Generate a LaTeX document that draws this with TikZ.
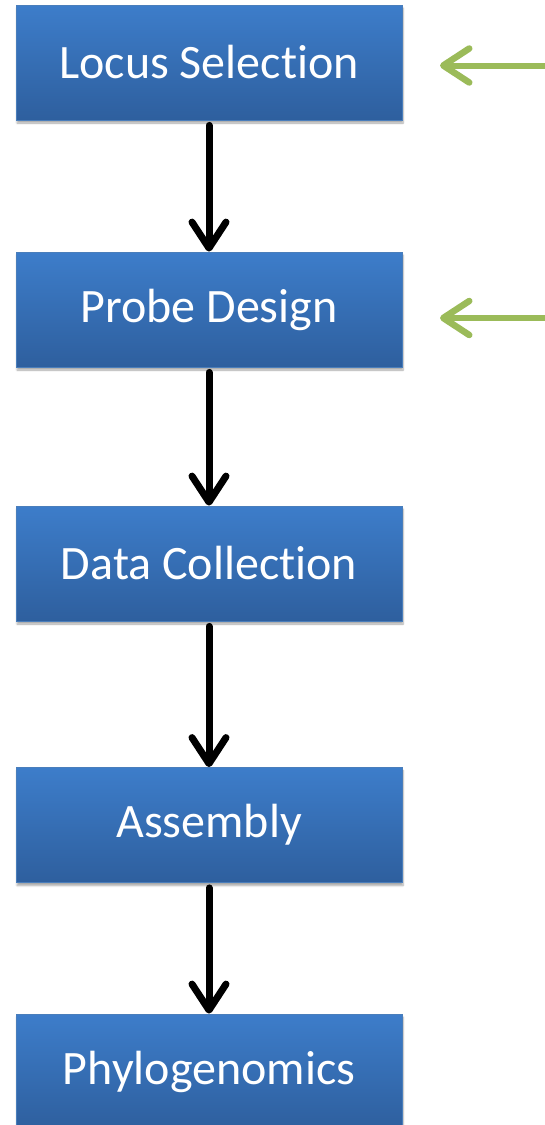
\documentclass[tikz,border=0pt]{standalone}
\usepackage{fontspec}
\setmainfont[Ligatures={NoCommon,NoDiscretionary,NoContextual}]{Carlito}
\usetikzlibrary{arrows.meta,shadows.blur}
\definecolor{boxtop}{HTML}{3D7DCA}
\definecolor{boxbot}{HTML}{2E5F9E}
\definecolor{boxedge}{HTML}{4A7EBB}
\definecolor{ggreen}{HTML}{9BBB59}
\tikzset{
  stepbox/.style={rectangle, minimum width=386pt, minimum height=115pt,
    top color=boxtop, bottom color=boxbot, draw=boxedge, line width=0.8pt,
    text=white, font=\fontsize{48}{52}\selectfont, inner sep=0pt,
    blur shadow={shadow xshift=1pt, shadow yshift=-3pt, shadow blur steps=6, shadow opacity=35}},
  flow/.style={line width=7pt, black, line cap=round,
    -{Straight Barb[length=26pt,width=34pt,line width=7pt,round]}},
  feed/.style={line width=6pt, ggreen, line cap=round,
    -{Straight Barb[length=26pt,width=34pt,line width=6.5pt,round]}},
}
\begin{document}
\begin{tikzpicture}[x=1pt,y=-1pt]
\useasboundingbox (0,0) rectangle (544,1125);
\node[stepbox] (b1) at (209,62.5) {Locus Select\kern0pt ion};
\node[stepbox] (b2) at (209,309.5) {Probe Design};
\node[stepbox] (b3) at (209,563.5) {Data Collect\kern0pt ion};
\node[stepbox] (b4) at (209,825) {Assembly};
\node[stepbox] (b5) at (209,1071.5) {Phylogenomics};
\coordinate (g1s) at (550,65.5);
\coordinate (g1e) at (440,65.5);
\coordinate (g2s) at (550,318);
\coordinate (g2e) at (440,318);
\draw[flow, shorten <=5pt] (b1.south) -- (b2.north);
\draw[flow, shorten <=5pt] (b2.south) -- (b3.north);
\draw[flow, shorten <=5pt] (b3.south) -- (b4.north);
\draw[flow, shorten <=5pt] (b4.south) -- (b5.north);
\draw[feed] (g1s) -- (g1e);
\draw[feed] (g2s) -- (g2e);
\end{tikzpicture}
\end{document}
